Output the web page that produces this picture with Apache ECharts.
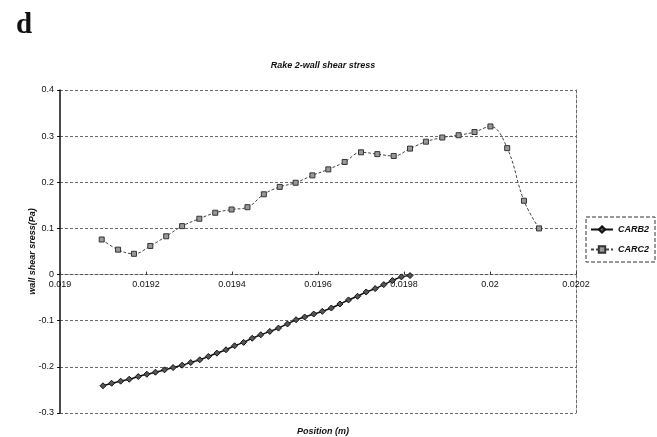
<!DOCTYPE html>
<html>
<head>
<meta charset="utf-8">
<script src="https://cdn.jsdelivr.net/npm/echarts@6/dist/echarts.min.js"></script>
<style>
  html, body { margin: 0; padding: 0; background: #fff; }
  #chart { width: 657px; height: 437px; }
</style>
</head>
<body>
<div id="chart"></div>
<script>
// Wall shear stress along rake 2 (Pa) against position (m)
const carb2X = [
  0.019100, 0.019120, 0.019141, 0.019161, 0.019182, 0.019202, 0.019222, 0.019243,
  0.019263, 0.019284, 0.019304, 0.019325, 0.019345, 0.019365, 0.019386, 0.019406,
  0.019427, 0.019447, 0.019467, 0.019488, 0.019508, 0.019529, 0.019549, 0.019569,
  0.019590, 0.019610, 0.019631, 0.019651, 0.019671, 0.019692, 0.019712, 0.019733,
  0.019753, 0.019773, 0.019794, 0.019814
];
const carb2Y = [
  -0.241, -0.2355, -0.231, -0.2268, -0.221, -0.216, -0.2116, -0.2065,
  -0.2015, -0.1964, -0.1906, -0.1848, -0.1775, -0.1703, -0.163, -0.1543,
  -0.147, -0.138, -0.1304, -0.1232, -0.116, -0.107, -0.0978, -0.092,
  -0.0855, -0.0797, -0.0725, -0.0638, -0.055, -0.0471, -0.0377, -0.0304,
  -0.0217, -0.013, -0.005, -0.0022
];
const carc2X = [
  0.019097, 0.019135, 0.019172, 0.019210, 0.019247, 0.019284, 0.019324, 0.019361,
  0.019399, 0.019436, 0.019474, 0.019511, 0.019548, 0.019587, 0.019624, 0.019662,
  0.019700, 0.019738, 0.019776, 0.019814, 0.019851, 0.019889, 0.019927, 0.019964,
  0.020001, 0.020040, 0.020079, 0.020114
];
const carc2Y = [
  0.076, 0.054, 0.045, 0.062, 0.083, 0.105, 0.121, 0.134,
  0.141, 0.146, 0.174, 0.190, 0.199, 0.215, 0.228, 0.244,
  0.265, 0.261, 0.257, 0.273, 0.288, 0.297, 0.302, 0.309,
  0.321, 0.274, 0.160, 0.100
];
const seriesNames = ['CARB2', 'CARC2'];
const xTicks = { min: 0.019, max: 0.0202, step: 0.0002 };
const yTicks = { min: -0.3, max: 0.4, step: 0.1 };

const pairs = (xs, ys) => xs.map((x, i) => [x, ys[i]]);
const fmt = v => String(parseFloat(v.toFixed(5)));
const FONT = 'Liberation Sans, Arial, sans-serif';
const labelFont = { fontFamily: FONT, fontSize: 9, fontWeight: 'bold', fontStyle: 'italic', color: '#111' };
const gridLine = { color: '#6a6a6a', type: [3, 2], width: 1 };

// plot box
const H = 437;
const gridBox = { left: 60, right: 81, top: 90, bottom: 24 };
const plotH = H - gridBox.top - gridBox.bottom;
// the position axis crosses the stress axis at zero: shift it up from the bottom edge
const zeroShift = -plotH * (0 - yTicks.min) / (yTicks.max - yTicks.min);

const chart = echarts.init(document.getElementById('chart'), null, { renderer: 'canvas' });
chart.setOption({
  animation: false,
  backgroundColor: '#fff',
  title: [
    {
      text: 'd', left: 11, top: 6,
      textStyle: { fontFamily: 'Liberation Serif, serif', fontSize: 29, fontWeight: 'bold', color: '#111' }
    },
    {
      text: 'Rake 2-wall shear stress', left: 318, top: 56, textAlign: 'center',
      textStyle: labelFont
    },
    {
      text: 'Position (m)', left: 318, top: 422, textAlign: 'center',
      textStyle: labelFont
    }
  ],
  legend: {
    orient: 'vertical', left: 586, top: 217,
    data: seriesNames,
    itemWidth: 22, itemHeight: 8, itemGap: 11,
    padding: [8, 6, 8, 4],
    borderColor: '#333', borderWidth: 1, borderType: 'dashed',
    textStyle: labelFont
  },
  grid: Object.assign({ containLabel: false }, gridBox),
  xAxis: [
    {
      type: 'value', min: xTicks.min, max: xTicks.max, interval: xTicks.step,
      position: 'bottom', offset: zeroShift,
      axisLine: { onZero: false, lineStyle: { color: '#555', type: [3, 2] } },
      axisTick: { show: true, length: 3, inside: true, lineStyle: { color: '#333' } },
      axisLabel: { formatter: fmt, fontFamily: FONT, fontSize: 9, color: '#111', margin: 5 },
      splitLine: { show: false }
    }
  ],
  yAxis: [
    {
      type: 'value', min: yTicks.min, max: yTicks.max, interval: yTicks.step,
      name: 'wall shear sress(Pa)', nameLocation: 'middle', nameGap: 23, nameMoveOverlap: false,
      nameTextStyle: labelFont,
      axisLine: { show: true, onZero: false, lineStyle: { color: '#111', width: 1.5 } },
      axisTick: { show: true, length: 3, lineStyle: { color: '#111' } },
      axisLabel: { formatter: v => fmt(v), fontFamily: FONT, fontSize: 9, color: '#111', margin: 6 },
      splitLine: { show: true, lineStyle: gridLine }
    },
    {
      type: 'value', min: yTicks.min, max: yTicks.max, interval: yTicks.step, position: 'right',
      axisLine: { show: true, onZero: false, lineStyle: gridLine },
      axisTick: { show: false }, axisLabel: { show: false }, splitLine: { show: false }
    }
  ],
  series: [
    {
      name: seriesNames[0], type: 'line', data: pairs(carb2X, carb2Y),
      smooth: 0.3,
      symbol: 'diamond', symbolSize: 6,
      lineStyle: { color: '#111', width: 1.5 },
      itemStyle: { color: '#555', borderColor: '#111', borderWidth: 1 }
    },
    {
      name: seriesNames[1], type: 'line', data: pairs(carc2X, carc2Y),
      smooth: 0.4,
      symbol: 'rect', symbolSize: 5,
      lineStyle: { color: '#444', width: 1, type: [3, 2] },
      itemStyle: { color: '#999', borderColor: '#333', borderWidth: 1 }
    }
  ]
});
</script>
</body>
</html>
